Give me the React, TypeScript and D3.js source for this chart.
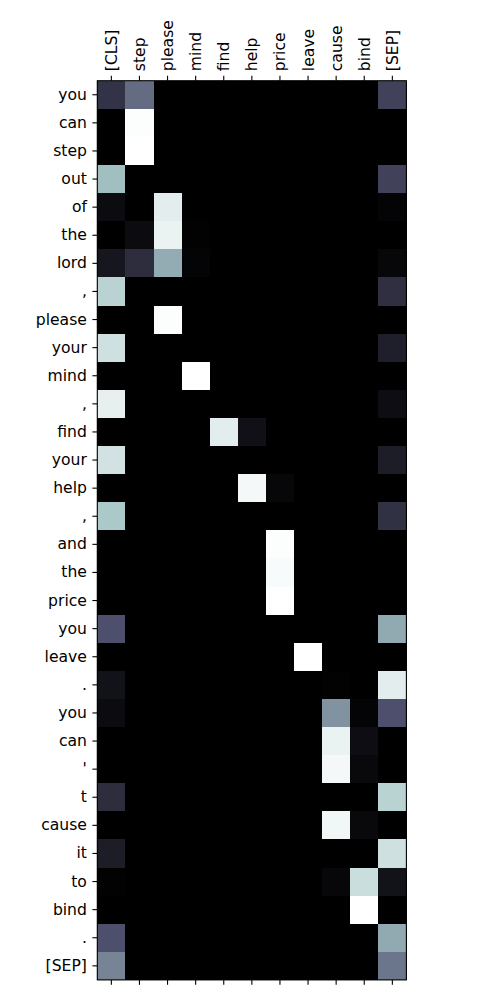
import React, { useEffect, useRef } from 'react';
import * as d3 from 'd3';

const xLabels = ['[CLS]', 'step', 'please', 'mind', 'find', 'help', 'price', 'leave', 'cause', 'bind', '[SEP]'];
const yLabels = [
  'you', 'can', 'step', 'out', 'of', 'the', 'lord', ',', 'please', 'your', 'mind', ',',
  'find', 'your', 'help', ',', 'and', 'the', 'price', 'you', 'leave', '.', 'you', 'can',
  "'", 't', 'cause', 'it', 'to', 'bind', '.', '[SEP]',
];

// one row per y token, columns follow xLabels
const attention = [
  [0.23, 0.45, 0, 0, 0, 0, 0, 0, 0, 0, 0.29],
  [0, 0.99, 0, 0, 0, 0, 0, 0, 0, 0, 0],
  [0, 1.0, 0, 0, 0, 0, 0, 0, 0, 0, 0],
  [0.72, 0, 0, 0, 0, 0, 0, 0, 0, 0, 0.29],
  [0.05, 0, 0.92, 0, 0, 0, 0, 0, 0, 0, 0.02],
  [0, 0.05, 0.94, 0.01, 0, 0, 0, 0, 0, 0, 0],
  [0.1, 0.2, 0.66, 0.02, 0, 0, 0, 0, 0, 0, 0.03],
  [0.8, 0, 0, 0, 0, 0, 0, 0, 0, 0, 0.21],
  [0, 0, 0.99, 0, 0, 0, 0, 0, 0, 0, 0],
  [0.86, 0, 0, 0, 0, 0, 0, 0, 0, 0, 0.14],
  [0, 0, 0, 1.0, 0, 0, 0, 0, 0, 0, 0],
  [0.93, 0, 0, 0, 0, 0, 0, 0, 0, 0, 0.06],
  [0, 0, 0, 0, 0.92, 0.07, 0, 0, 0, 0, 0],
  [0.87, 0, 0, 0, 0, 0, 0, 0, 0, 0, 0.13],
  [0, 0, 0, 0, 0, 0.97, 0.03, 0, 0, 0, 0],
  [0.76, 0, 0, 0, 0, 0, 0, 0, 0, 0, 0.22],
  [0, 0, 0, 0, 0, 0, 0.99, 0, 0, 0, 0],
  [0, 0, 0, 0, 0, 0, 0.98, 0, 0, 0, 0],
  [0, 0, 0, 0, 0, 0, 1.0, 0, 0, 0, 0],
  [0.35, 0, 0, 0, 0, 0, 0, 0, 0, 0, 0.65],
  [0, 0, 0, 0, 0, 0, 0, 1.0, 0, 0, 0],
  [0.08, 0, 0, 0, 0, 0, 0, 0, 0.01, 0, 0.92],
  [0.05, 0, 0, 0, 0, 0, 0, 0, 0.58, 0.02, 0.35],
  [0, 0, 0, 0, 0, 0, 0, 0, 0.94, 0.06, 0],
  [0, 0, 0, 0, 0, 0, 0, 0, 0.97, 0.04, 0],
  [0.2, 0, 0, 0, 0, 0, 0, 0, 0, 0, 0.8],
  [0, 0, 0, 0, 0, 0, 0, 0, 0.96, 0.04, 0],
  [0.13, 0, 0, 0, 0, 0, 0, 0, 0, 0, 0.86],
  [0.01, 0, 0, 0, 0, 0, 0, 0, 0.03, 0.85, 0.08],
  [0, 0, 0, 0, 0, 0, 0, 0, 0, 1.0, 0],
  [0.35, 0, 0, 0, 0, 0, 0, 0, 0, 0, 0.65],
  [0.53, 0, 0, 0, 0, 0, 0, 0, 0, 0, 0.48],
];

// matplotlib "bone" colormap
const boneR = d3.scaleLinear().domain([0, 0.746032, 1]).range([0, 0.652778, 1]).clamp(true);
const boneG = d3.scaleLinear().domain([0, 0.365079, 0.746032, 1]).range([0, 0.319444, 0.777778, 1]).clamp(true);
const boneB = d3.scaleLinear().domain([0, 0.365079, 1]).range([0, 0.444444, 1]).clamp(true);
const bone = (v: number) =>
  d3.rgb(boneR(v) * 255, boneG(v) * 255, boneB(v) * 255).formatHex();

const App = () => {
  const svgRef = useRef<SVGSVGElement>(null);

  useEffect(() => {
    const svg = d3.select(svgRef.current);
    svg.selectAll('*').remove();

    const margin = { top: 80.7, left: 97.3 };
    const cell = 28.1;
    const width = cell * xLabels.length;
    const height = cell * yLabels.length;
    const fontSize = '15.6px';

    const x = d3.scaleBand<number>().domain(d3.range(xLabels.length)).range([0, width]);
    const y = d3.scaleBand<number>().domain(d3.range(yLabels.length)).range([0, height]);

    const vmin = d3.min(attention.flat()) as number;
    const vmax = d3.max(attention.flat()) as number;
    const norm = d3.scaleLinear().domain([vmin, vmax]).range([0, 1]);

    const g = svg.append('g').attr('transform', `translate(${margin.left},${margin.top})`);

    const cells = attention.flatMap((row, i) => row.map((v, j) => ({ i, j, v })));
    g.selectAll('rect.cell')
      .data(cells)
      .join('rect')
      .attr('class', 'cell')
      .attr('x', d => x(d.j)!)
      .attr('y', d => y(d.i)!)
      .attr('width', x.bandwidth() + 0.3)
      .attr('height', y.bandwidth() + 0.3)
      .attr('fill', d => bone(norm(d.v)))
      .attr('shape-rendering', 'crispEdges');

    const fmtX = (i: number) => xLabels[i];
    const fmtY = (i: number) => yLabels[i];

    // top axis with rotated labels
    const top = g.append('g')
      .call(d3.axisTop(x).tickSize(4.9).tickFormat(fmtX as any));

    // bottom ticks, no labels
    g.append('g')
      .attr('transform', `translate(0,${height})`)
      .call(d3.axisBottom(x).tickSize(4.9).tickFormat(() => ''));

    // left axis with labels
    g.append('g')
      .call(d3.axisLeft(y).tickSize(4.9).tickPadding(5.5).tickFormat(fmtY as any));

    g.selectAll('.domain').remove();
    g.selectAll('.tick line').attr('stroke', '#000').attr('stroke-width', 1.1);
    g.selectAll('.tick text')
      .attr('fill', '#000')
      .style('font-family', '"DejaVu Sans", sans-serif')
      .style('font-size', fontSize);

    top.selectAll('text')
      .attr('transform', 'rotate(-90)')
      .attr('x', 9.5)
      .attr('y', 0)
      .attr('dy', '0.35em')
      .style('text-anchor', 'start');

    g.append('rect')
      .attr('width', width)
      .attr('height', height)
      .attr('fill', 'none')
      .attr('stroke', '#000')
      .attr('stroke-width', 1.1);
  }, []);

  return (
    <svg
      ref={svgRef}
      width={500}
      height={1000}
      style={{ position: 'absolute', left: 0, top: 0, background: '#fff' }}
    />
  );
};

export default App;
